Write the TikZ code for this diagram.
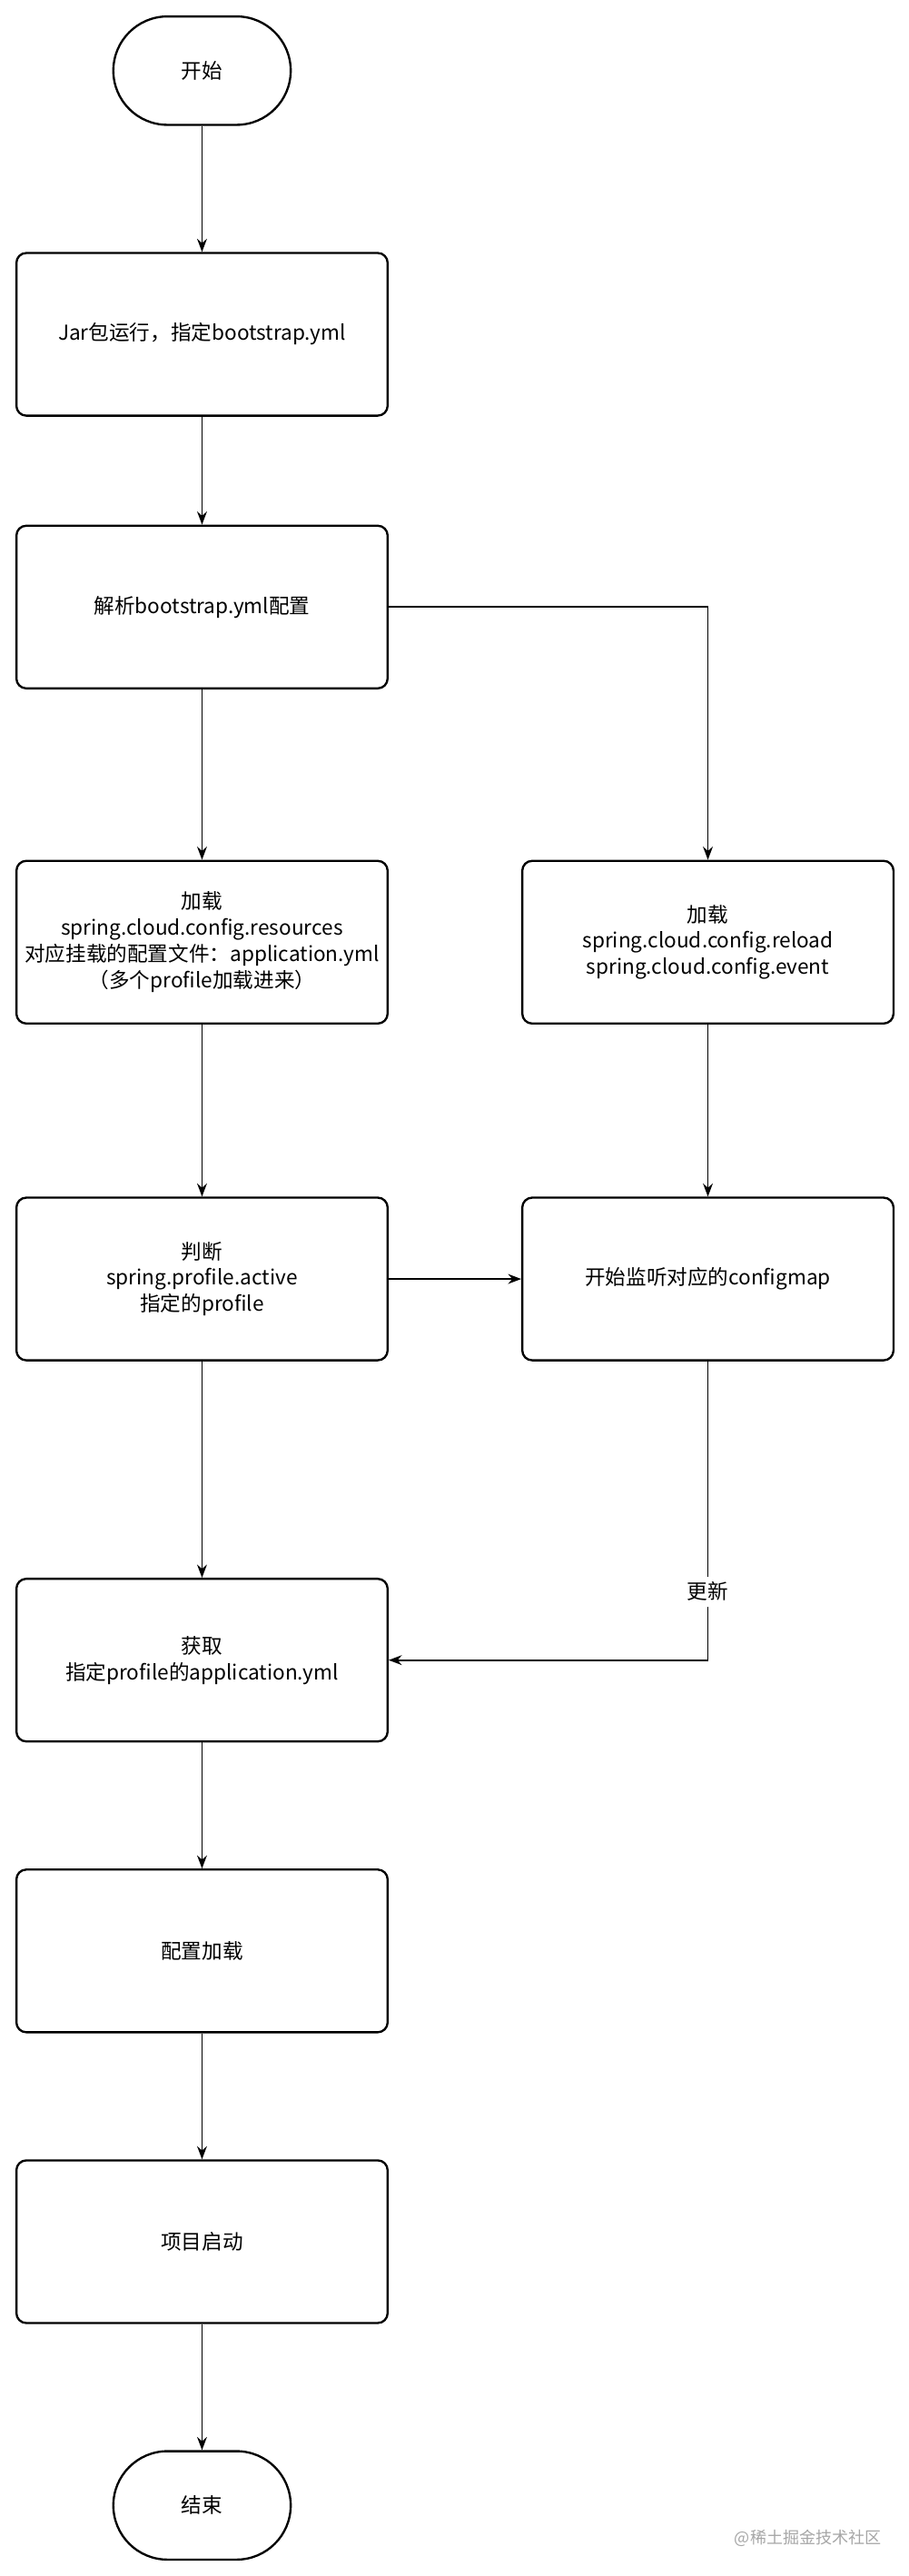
\documentclass[tikz,border=0pt]{standalone}
\usepackage{fontspec}
\setmainfont{Noto Sans CJK SC}
\usetikzlibrary{arrows.meta}
\begin{document}
\begin{tikzpicture}[x=1pt,y=-1pt,
 box/.style={draw,line width=1.3pt,rounded corners=6pt,minimum width=226pt,minimum height=99pt,align=center,font=\fontsize{12.5}{16}\selectfont,inner sep=0pt},
 term/.style={draw,line width=1.3pt,rounded corners=33pt,minimum width=108pt,minimum height=66pt,font=\fontsize{12.5}{16}\selectfont},
 arr/.style={-{Stealth[length=8pt,width=6pt]},line width=0.9pt}]
\useasboundingbox (0,0) rectangle (553,1568);
\node[term] (s) at (123,43) {开始};
\node[box] (b1) at (123,203.5) {Jar包运行，指定bootstrap.yml};
\node[box] (b2) at (123,369.5) {解析bootstrap.yml配置};
\node[box] (b3) at (123,573.5) {加载\\spring.cloud.config.resources\\对应挂载的配置文件：application.yml\\（多个profile加载进来）};
\node[box] (r1) at (431,573.5) {加载\\spring.cloud.config.reload\\spring.cloud.config.event};
\node[box] (b4) at (123,778.5) {判断\\spring.profile.active\\指定的profile};
\node[box] (r2) at (431,778.5) {开始监听对应的configmap};
\node[box] (b5) at (123,1010.5) {获取\\指定profile的application.yml};
\node[box] (b6) at (123,1187.5) {配置加载};
\node[box] (b7) at (123,1364.5) {项目启动};
\node[term] (e) at (123,1525) {结束};
\draw[arr] (s) -- (b1);
\draw[arr] (b1) -- (b2);
\draw[arr] (b2) -- (b3);
\draw[arr] (b2.east) -| (r1.north);
\draw[arr] (r1) -- (r2);
\draw[arr] (b3) -- (b4);
\draw[arr] (b4) -- (r2);
\draw[arr] (b4) -- (b5);
\draw[arr] (r2.south) |- node[pos=0.385,fill=white,font=\fontsize{12.5}{16}\selectfont] (lbl) {更新} (b5.east);
\draw[arr] (b5) -- (b6);
\draw[arr] (b6) -- (b7);
\draw[arr] (b7) -- (e);
\node[text=gray!70,font=\fontsize{10}{12}\selectfont] (wm) at (492,1545) {@稀土掘金技术社区};
\end{tikzpicture}
\end{document}
